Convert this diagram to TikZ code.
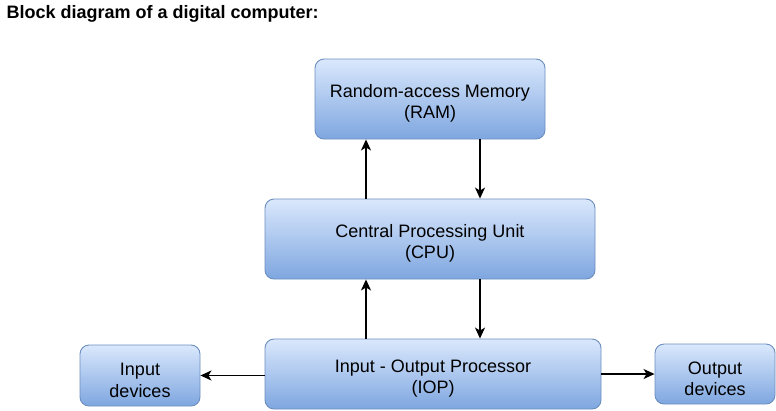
\documentclass[tikz,border=0pt]{standalone}
\usepackage{fontspec}
\setmainfont{Liberation Sans}
\usetikzlibrary{arrows.meta}
\definecolor{boxtop}{HTML}{DAE8FC}
\definecolor{boxbot}{HTML}{7EA6E0}
\definecolor{boxline}{HTML}{6C8EBF}
\newcommand{\topgap}{\rule{0pt}{22pt}}
\tikzstyle{arrow} = [->,>={Stealth[length=11pt,width=10pt,inset=3pt]},line width=1.4pt]
\tikzstyle{block} = [draw=boxline,line width=0.9pt,rounded corners=9pt,top color=boxtop,bottom color=boxbot,
  align=center,inner sep=0pt,font=\fontsize{18}{21.5}\selectfont]

\begin{document}
\begin{tikzpicture}[x=1pt,y=-1pt]
        \useasboundingbox (0,0) rectangle (776,410);
        \node[anchor=base west, font=\fontsize{18}{21}\selectfont\bfseries] at (3,18) (title) {Block diagram of a digital computer:};

        \node[block, minimum width=230pt, minimum height=80pt] at (430,99) (ram) {\topgap Random-access Memory\\(RAM)};
        \node[block, minimum width=330pt, minimum height=80pt] at (430,239) (cpu) {\topgap Central Processing Unit\\(CPU)};
        \node[block, minimum width=336pt, minimum height=70pt] at (433,374) (iop) {\topgap Input - Output Processor\\(IOP)};
        \node[block, minimum width=120pt, minimum height=61pt] at (140,375.5) (in) {\topgap Input\\devices};
        \node[block, minimum width=120pt, minimum height=60pt] at (715,374) (out) {\topgap Output\\devices};

        \coordinate (up) at (366,0);
        \coordinate (down) at (480,0);

        \draw[arrow] (cpu.north -| up) -- (ram.south -| up);
        \draw[arrow] (ram.south -| down) -- (cpu.north -| down);
        \draw[arrow] (iop.north -| up) -- (cpu.south -| up);
        \draw[arrow] (cpu.south -| down) -- (iop.north -| down);
        \draw[arrow] (iop.west |- in.east) -- (in.east);
        \draw[arrow] (iop.east |- out.west) -- (out.west);

    \end{tikzpicture}
\end{document}
